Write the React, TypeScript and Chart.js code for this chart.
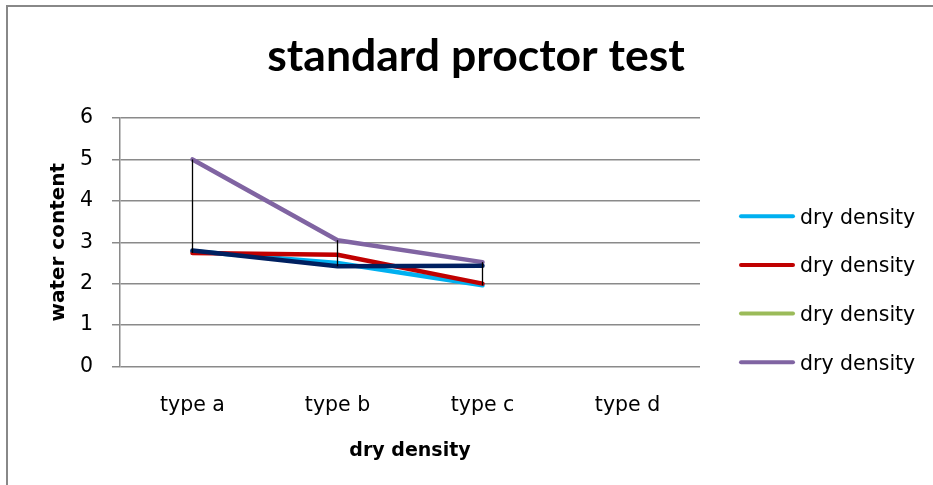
import React, { useEffect, useRef } from "react";
import { Chart, registerables } from "chart.js";

Chart.register(...registerables);

const categories = ["type a", "type b", "type c", "type d"];
const seriesNames = ["dry density", "dry density", "dry density", "dry density", "dry density"];
const blueValues = [2.78, 2.5, 1.96, null];
const redValues = [2.74, 2.7, 2.0, null];
const greenValues = [null, null, null, null];
const purpleValues = [5.0, 3.05, 2.52, null];
const navyValues = [2.8, 2.42, 2.43, null];
const yTicks = [0, 1, 2, 3, 4, 5, 6];
const chartTitle = "standard proctor test";

const LABEL_FONT = "'DejaVu Sans', sans-serif";
const GRID = "#8a8a8a";

const framePlugin = {
  id: "frame",
  beforeDraw(chart: any) {
    const { ctx, width, height } = chart;
    ctx.save();
    ctx.fillStyle = "#ffffff";
    ctx.fillRect(0, 0, width, height);
    ctx.fillStyle = "#888888";
    ctx.fillRect(6, 5, 2, height - 5);
    ctx.fillRect(6, 5, width - 6, 2);
    ctx.restore();
  },
};

const chartTitlePlugin = {
  id: "chartTitle",
  afterDraw(chart: any, _args: any, opts: any) {
    const { ctx, chartArea } = chart;
    ctx.save();
    ctx.font = `bold ${opts.fontSize}px ${opts.family}`;
    ctx.fillStyle = "#000000";
    ctx.textAlign = "center";
    ctx.textBaseline = "alphabetic";
    ctx.fillText(opts.text, opts.centerX, chartArea.top - opts.baselineAbove);
    ctx.restore();
  },
};

const highLowPlugin = {
  id: "highLow",
  afterDatasetsDraw(chart: any) {
    const { ctx } = chart;
    const xs = chart.scales.x;
    const ys = chart.scales.y;
    const n = chart.data.labels.length;
    ctx.save();
    ctx.strokeStyle = "#000000";
    ctx.lineWidth = 1.3;
    for (let i = 0; i < n; i++) {
      const vals: number[] = [];
      chart.data.datasets.forEach((ds: any) => {
        const v = ds.data[i];
        if (typeof v === "number") vals.push(v);
      });
      if (vals.length < 2) continue;
      const x = xs.getPixelForValue(i);
      ctx.beginPath();
      ctx.moveTo(x, ys.getPixelForValue(Math.max(...vals)));
      ctx.lineTo(x, ys.getPixelForValue(Math.min(...vals)));
      ctx.stroke();
    }
    ctx.restore();
  },
};

const sideLegendPlugin = {
  id: "sideLegend",
  afterDraw(chart: any, _args: any, opts: any) {
    const { ctx, chartArea } = chart;
    const items = chart.data.datasets.filter((d: any) => !d.skipLegend);
    const spacing = opts.spacing;
    const centerY = (chartArea.top + chartArea.bottom) / 2 + opts.offsetY;
    const firstY = centerY - ((items.length - 1) * spacing) / 2;
    const x0 = chartArea.right + opts.gap;
    ctx.save();
    ctx.font = `${opts.fontSize}px ${LABEL_FONT}`;
    ctx.textBaseline = "middle";
    ctx.textAlign = "left";
    items.forEach((ds: any, i: number) => {
      const y = firstY + i * spacing;
      ctx.strokeStyle = ds.borderColor;
      ctx.lineWidth = 4;
      ctx.lineCap = "round";
      ctx.beginPath();
      ctx.moveTo(x0 + 2, y);
      ctx.lineTo(x0 + opts.lineLength - 2, y);
      ctx.stroke();
      ctx.fillStyle = "#000000";
      ctx.fillText(ds.label, x0 + opts.lineLength + opts.textGap, y + 2);
    });
    ctx.restore();
  },
};

function makeDataset(label: string, data: (number | null)[], color: string, order: number, skipLegend = false) {
  return {
    label,
    data,
    borderColor: color,
    backgroundColor: color,
    borderWidth: 4.5,
    borderCapStyle: "round",
    borderJoinStyle: "round",
    pointRadius: 0,
    pointHoverRadius: 0,
    tension: 0,
    spanGaps: false,
    order,
    skipLegend,
  };
}

export default function App() {
  const canvasRef = useRef<HTMLCanvasElement | null>(null);

  useEffect(() => {
    if (!canvasRef.current) return;
    const chart = new Chart(canvasRef.current, {
      type: "line",
      data: {
        labels: categories,
        datasets: [
          makeDataset(seriesNames[0], blueValues, "#00B0F0", 5),
          makeDataset(seriesNames[1], redValues, "#C00000", 4),
          makeDataset(seriesNames[2], greenValues, "#9BBB59", 3),
          makeDataset(seriesNames[3], purpleValues, "#8064A2", 2),
          makeDataset(seriesNames[4], navyValues, "#002060", 1, true),
        ] as any,
      },
      options: {
        animation: false,
        responsive: false,
        devicePixelRatio: 1,
        events: [],
        layout: { padding: { left: 0, right: 233, top: 118, bottom: 0 } },
        plugins: {
          legend: { display: false },
          tooltip: { enabled: false },
          title: { display: false },
          chartTitle: {
            text: chartTitle,
            family: "Lato, sans-serif",
            fontSize: 44.5,
            centerX: 476,
            baselineAbove: 47,
          },
          sideLegend: {
            spacing: 48.7,
            offsetY: 47,
            gap: 39,
            lineLength: 56,
            textGap: 5,
            fontSize: 20.5,
          },
        } as any,
        scales: {
          x: {
            type: "category",
            offset: true,
            grid: { display: false, drawTicks: false, tickLength: 0 },
            border: { display: false },
            ticks: {
              color: "#000000",
              font: { family: LABEL_FONT, size: 20.5 },
              padding: 27,
              maxRotation: 0,
              autoSkip: false,
            },
            title: {
              display: true,
              text: "dry density",
              color: "#000000",
              font: { family: LABEL_FONT, size: 19, weight: "bold", lineHeight: 1.2 },
              padding: { top: 0, bottom: 22.6 },
            },
            afterFit(scale: any) {
              scale.height = 118.5;
            },
          },
          y: {
            min: yTicks[0],
            max: yTicks[yTicks.length - 1],
            grid: { color: GRID, lineWidth: 1.5, tickLength: 8, drawTicks: true },
            border: { display: true, color: GRID, width: 1.5 },
            ticks: {
              stepSize: 1,
              color: "#000000",
              font: { family: LABEL_FONT, size: 20.5 },
              padding: 19,
            },
            title: {
              display: true,
              text: "water content",
              color: "#000000",
              font: { family: LABEL_FONT, size: 20, weight: "bold", lineHeight: 1.2 },
              padding: { top: 47, bottom: 0 },
            },
            afterFit(scale: any) {
              scale.width = 120;
            },
          },
        },
      } as any,
      plugins: [framePlugin, highLowPlugin, sideLegendPlugin, chartTitlePlugin],
    });
    return () => chart.destroy();
  }, []);

  return (
    <div style={{ position: "fixed", left: 0, top: 0, width: 933, height: 485, background: "#fff" }}>
      <canvas ref={canvasRef} width={933} height={485} style={{ display: "block", width: 933, height: 485 }} />
    </div>
  );
}
